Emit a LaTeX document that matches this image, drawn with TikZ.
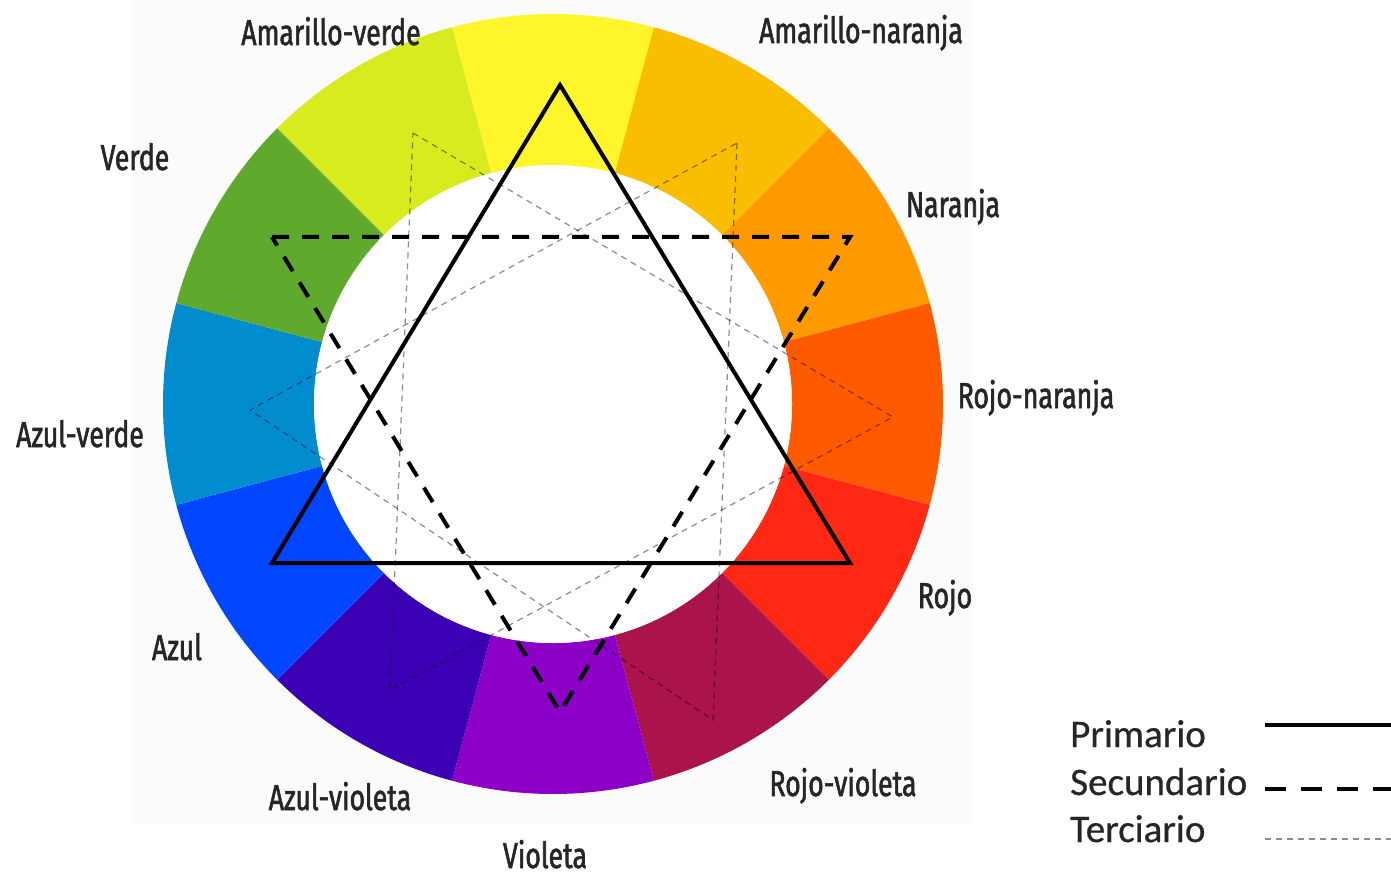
\documentclass[tikz,border=0pt]{standalone}
\usepackage{fontspec}
\newfontfamily\wheelfont[FakeStretch=0.74,FakeBold=1.6]{Fira Sans}
\newfontfamily\legendfont[FakeBold=0.6]{Carlito}
\definecolor{amarillo}{HTML}{FFF52B}
\definecolor{amarillonaranja}{HTML}{FABE00}
\definecolor{naranja}{HTML}{FF9B00}
\definecolor{rojonaranja}{HTML}{FF5A00}
\definecolor{rojo}{HTML}{FF2814}
\definecolor{rojovioleta}{HTML}{AA144B}
\definecolor{violeta}{HTML}{8C00C8}
\definecolor{azulvioleta}{HTML}{3C00B4}
\definecolor{azul}{HTML}{0046FF}
\definecolor{azulverde}{HTML}{008CCD}
\definecolor{verde}{HTML}{5FAA2D}
\definecolor{amarilloverde}{HTML}{D7EB1E}
\tikzset{
    primario/.style={line width=4pt,black,line join=miter},
    secundario/.style={line width=4pt,black,dash pattern=on 17pt off 13pt},
    terciario/.style={line width=1.2pt,black,opacity=0.45,dash pattern=on 6pt off 5pt},
    etiqueta/.style={font=\wheelfont\fontsize{36}{40}\selectfont,text=black!85,inner sep=0pt,anchor=base},
    leyenda/.style={font=\legendfont\fontsize{39}{44}\selectfont,text=black!85,inner sep=0pt,anchor=base west}
}
\begin{document}
\begin{tikzpicture}[x=1pt,y=-1pt]
    \useasboundingbox (0,0) rectangle (1391,877);
    \fill[white] (0,0) rectangle (1391,877);
    \fill[black!1.5] (133,0) rectangle (973,823);
    \begin{scope}[shift={(553,404)},y=1pt]
        \foreach \ang/\col in {90/amarillo,60/amarillonaranja,30/naranja,0/rojonaranja,
            -30/rojo,-60/rojovioleta,-90/violeta,-120/azulvioleta,-150/azul,
            180/azulverde,150/verde,120/amarilloverde}
            \fill[\col] (\ang-15:390) arc[start angle=\ang-15,end angle=\ang+15,radius=390]
                -- (\ang+15:239) arc[start angle=\ang+15,end angle=\ang-15,radius=239] -- cycle;
        \fill[white] (0,0) circle[radius=239];
    \end{scope}
    \coordinate (P1) at (560,85);
    \coordinate (P2) at (850,563);
    \coordinate (P3) at (272,563);
    \coordinate (S1) at (272,237);
    \coordinate (S2) at (850,237);
    \coordinate (S3) at (560,712);
    \coordinate (T1) at (413,133);
    \coordinate (T2) at (893,417);
    \coordinate (T3) at (390,690);
    \coordinate (T4) at (737,143);
    \coordinate (T5) at (713,720);
    \coordinate (T6) at (250,410);
    \draw[terciario] (T1)--(T2)--(T3)--cycle;
    \draw[terciario] (T4)--(T5)--(T6)--cycle;
    \draw[secundario] (S1)--(S2)--(S3)--cycle;
    \draw[primario] (P1)--(P2)--(P3)--cycle;
    \node[etiqueta] (amve) at (331,45) {Amarillo-verde};
    \node[etiqueta] (amna) at (861,43) {Amarillo-naranja};
    \node[etiqueta] (ve) at (135,170) {Verde};
    \node[etiqueta] (na) at (953,217) {Naranja};
    \node[etiqueta] (rona) at (1036,408) {Rojo-naranja};
    \node[etiqueta] (azve) at (80,447) {Azul-verde};
    \node[etiqueta] (ro) at (945,608) {Rojo};
    \node[etiqueta] (az) at (177,660) {Azul};
    \node[etiqueta] (azvi) at (340,810) {Azul-violeta};
    \node[etiqueta] (rovi) at (843,796) {Rojo-violeta};
    \node[etiqueta] (vi) at (545,868) {Violeta};
    \node[leyenda] (lprim) at (1070,747) {Primario};
    \node[leyenda] (lsec) at (1070,795) {Secundario};
    \node[leyenda] (lter) at (1070,842) {Terciario};
    \coordinate (lp0) at (1265,725);
    \coordinate (lp1) at (1391,725);
    \coordinate (ls0) at (1265,789);
    \coordinate (ls1) at (1391,789);
    \coordinate (lt0) at (1265,839);
    \coordinate (lt1) at (1391,839);
    \draw[primario] (lp0)--(lp1);
    \draw[line width=4pt,dash pattern=on 21pt off 15pt] (ls0)--(ls1);
    \draw[terciario] (lt0)--(lt1);
\end{tikzpicture}
\end{document}
